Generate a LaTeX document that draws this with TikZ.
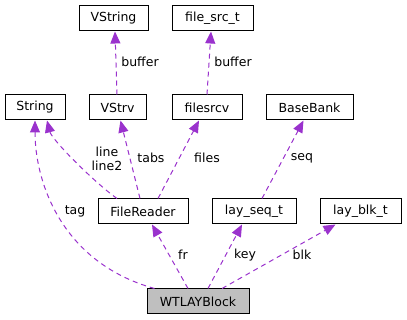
\documentclass[tikz,border=0pt]{standalone}
\usepackage{fontspec}
\setmainfont{DejaVu Sans}
\usepackage{tikz}
\usetikzlibrary{positioning,arrows.meta}
\definecolor{edgepurple}{HTML}{9A32CD}
\definecolor{nodegrey}{HTML}{BFBFBF}
\tikzset{
  cls/.style={draw=black, line width=1pt, fill=white, inner sep=0pt,
    minimum height=25pt, font=\fontsize{12.5}{14}\selectfont},
  self/.style={cls, fill=nodegrey},
  member/.style={draw=edgepurple, line width=1pt, dash pattern=on 5pt off 4pt,
    -{Triangle[length=12pt,width=10pt]}},
  lbl/.style={font=\fontsize{12.5}{14}\selectfont, inner sep=0pt, align=center}
}

\begin{document}
\begin{tikzpicture}[x=1pt,y=-1pt]
\useasboundingbox (0,0) rectangle (407,320);
\node[cls, minimum width=69pt] (VString) at (113.5,18.5) {VString};
\node[cls, minimum width=81pt] (filesrct) at (212.5,18.5) {file\_src\_t};
\node[cls, minimum width=60pt] (String) at (35,107.5) {String};
\node[cls, minimum width=57pt] (VStrv) at (117.5,107.5) {VStrv};
\node[cls, minimum width=70pt] (filesrcv) at (207,107.5) {filesrcv};
\node[cls, minimum width=87pt] (BaseBank) at (309.5,107.5) {BaseBank};
\node[cls, minimum width=90pt] (FileReader) at (143,211.5) {FileReader};
\node[cls, minimum width=84pt] (layseq) at (254,211.5) {lay\_seq\_t};
\node[cls, minimum width=81pt] (layblk) at (360.5,211.5) {lay\_blk\_t};
\node[self, minimum width=102pt] (WTLAYBlock) at (198,301.5) {WTLAYBlock};

\draw[member] ([xshift=-0.5pt]VStrv.north) -- ([xshift=1.5pt]VString.south);
\node[lbl] (bufa) at (140,62) {buffer};
\draw[member] (filesrcv.north) -- ([xshift=-1.5pt]filesrct.south);
\node[lbl] (bufb) at (233,62) {buffer};

\draw[member] ([xshift=-26pt]FileReader.north) .. controls (95,183) and (52,140) .. ([xshift=12pt]String.south);
\node[lbl] (lines) at (107,159) {line\\line2};
\draw[member] ([xshift=-3pt]FileReader.north) -- ([xshift=3pt]VStrv.south);
\node[lbl] (tabs) at (151,158) {tabs};
\draw[member] ([xshift=15pt]FileReader.north) -- ([xshift=-8pt]filesrcv.south);
\node[lbl] (files) at (207,158) {files};
\draw[member] ([xshift=8pt]layseq.north) -- ([xshift=-6pt]BaseBank.south);
\node[lbl] (seq) at (302,158) {seq};

\draw[member] ([xshift=8pt]WTLAYBlock.north west) .. controls (60,262) and (35,180) .. (String.south);
\node[lbl] (tag) at (75,211) {tag};
\draw[member] ([xshift=-10pt]WTLAYBlock.north) -- ([xshift=9pt]FileReader.south);
\node[lbl] (fr) at (183,255) {fr};
\draw[member] ([xshift=10pt]WTLAYBlock.north) -- ([xshift=-12pt]layseq.south);
\node[lbl] (key) at (245,255) {key};
\draw[member] ([xshift=24pt]WTLAYBlock.north) -- ([xshift=-25pt]layblk.south);
\node[lbl] (blk) at (302,255) {blk};
\end{tikzpicture}
\end{document}
